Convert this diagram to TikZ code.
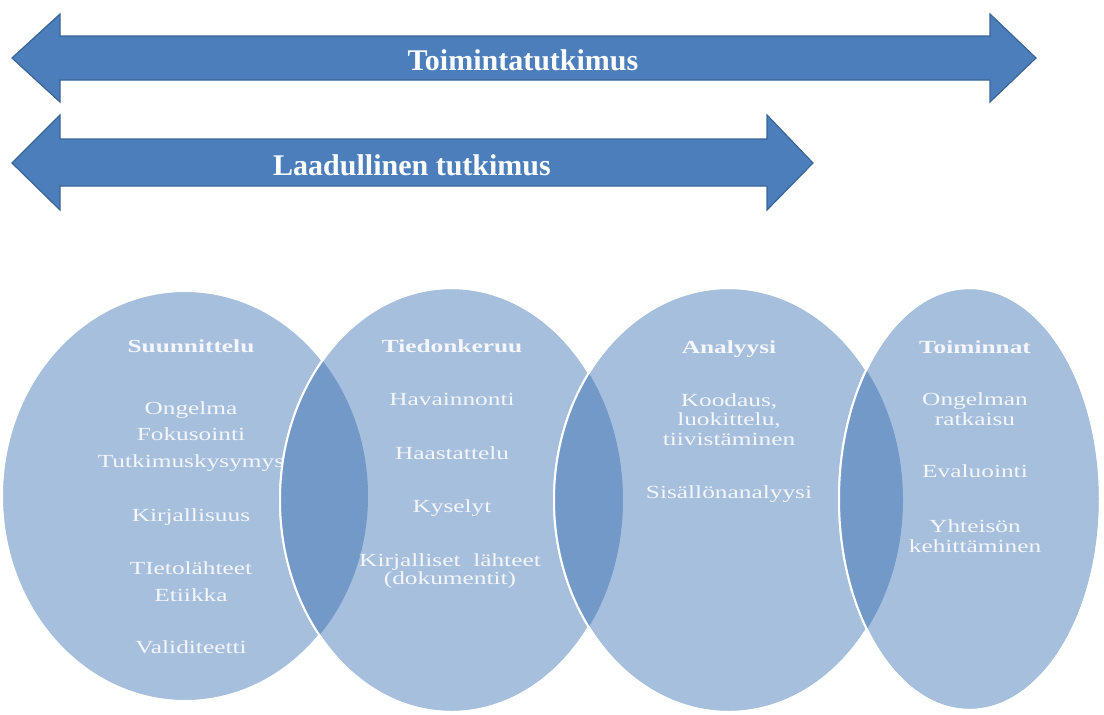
\documentclass[tikz,border=0pt]{standalone}
\usepackage{fontspec}
\setmainfont{Liberation Serif}
\newfontfamily\ellfont[FakeStretch=1.37]{Liberation Serif}
\definecolor{arrowfill}{HTML}{4C7EBC}
\definecolor{arrowline}{HTML}{3A6598}
\definecolor{ellfill}{HTML}{A6BFDD}
\definecolor{lensfill}{HTML}{7399C8}
\definecolor{elltext}{HTML}{F4F6FA}
\tikzset{
  bigarrow/.style={fill=arrowfill, draw=arrowline, line width=1.2pt, line join=miter},
  arrowlabel/.style={anchor=base, text=white, inner sep=0pt, font=\fontsize{30}{34}\selectfont\bfseries},
  ellbody/.style={fill=ellfill, draw=white, line width=2pt},
  lens/.style={fill=lensfill},
  ellborder/.style={draw=white, line width=2pt},
  itm/.style={anchor=base, text=elltext, inner sep=0pt, font=\ellfont\fontsize{18.5}{22}\selectfont},
  ttl/.style={itm, font=\ellfont\fontsize{18.5}{22}\selectfont\bfseries}
}
\begin{document}
\begin{tikzpicture}[x=1pt,y=-1pt]
\useasboundingbox (0,0) rectangle (1104,715);
% arrows
\draw[bigarrow] (12,58) -- (60,14) -- (60,36) -- (990,36) -- (990,14) -- (1036,58)
  -- (990,102) -- (990,80) -- (60,80) -- (60,102) -- cycle;
\node[arrowlabel] (toim) at (523,70) {Toimintatutkimus};
\draw[bigarrow] (12,163) -- (60,115) -- (60,139) -- (767,139) -- (767,115) -- (813,163)
  -- (767,210) -- (767,186) -- (60,186) -- (60,210) -- cycle;
\node[arrowlabel] (laad) at (412,175) {Laadullinen tutkimus};
% ellipse 1
\path[ellbody] (185,496) ellipse [x radius=183, y radius=205];
\node[ttl] (e1t) at (191,352) {Suunnittelu};
\node[itm] (e1a) at (191,414) {Ongelma};
\node[itm] (e1b) at (191,440) {Fokusointi};
\node[itm] (e1c) at (191,467) {Tutkimuskysymys};
\node[itm] (e1d) at (191,521) {Kirjallisuus};
\node[itm] (e1e) at (191,574) {TIetolähteet};
\node[itm] (e1f) at (191,601) {Etiikka};
\node[itm] (e1g) at (191,653) {Validiteetti};
% ellipse 2
\path[ellbody] (451.5,500) ellipse [x radius=171.5, y radius=212];
\begin{scope}
  \clip (185,496) ellipse [x radius=183, y radius=205];
  \fill[lens] (451.5,500) ellipse [x radius=171.5, y radius=212];
\end{scope}
\path[ellborder] (451.5,500) ellipse [x radius=171.5, y radius=212];
\node[ttl] (e2t) at (452,352) {Tiedonkeruu};
\node[itm] (e2a) at (452,405) {Havainnonti};
\node[itm] (e2b) at (452,459) {Haastattelu};
\node[itm] (e2c) at (452,512) {Kyselyt};
\node[itm] (e2d) at (450,566) {Kirjalliset\ \ lähteet};
\node[itm] (e2e) at (450,584) {(dokumentit)};
% ellipse 3
\path[ellbody] (728.5,500) ellipse [x radius=174.5, y radius=212];
\begin{scope}
  \clip (451.5,500) ellipse [x radius=171.5, y radius=212];
  \fill[lens] (728.5,500) ellipse [x radius=174.5, y radius=212];
\end{scope}
\path[ellborder] (728.5,500) ellipse [x radius=174.5, y radius=212];
\node[ttl] (e3t) at (729,353) {Analyysi};
\node[itm] (e3a) at (729,406) {Koodaus,};
\node[itm] (e3b) at (729,425) {luokittelu,};
\node[itm] (e3c) at (729,445) {tiivistäminen};
\node[itm] (e3d) at (729,498) {Sisällönanalyysi};
% ellipse 4
\path[ellbody] (969.5,499) ellipse [x radius=130.5, y radius=211];
\begin{scope}
  \clip (728.5,500) ellipse [x radius=174.5, y radius=212];
  \fill[lens] (969.5,499) ellipse [x radius=130.5, y radius=211];
\end{scope}
\path[ellborder] (969.5,499) ellipse [x radius=130.5, y radius=211];
\node[ttl] (e4t) at (975,353) {Toiminnat};
\node[itm] (e4a) at (975,405) {Ongelman};
\node[itm] (e4b) at (975,425) {ratkaisu};
\node[itm] (e4c) at (975,477) {Evaluointi};
\node[itm] (e4d) at (975,532) {Yhteisön};
\node[itm] (e4e) at (975,552) {kehittäminen};
\end{tikzpicture}
\end{document}
